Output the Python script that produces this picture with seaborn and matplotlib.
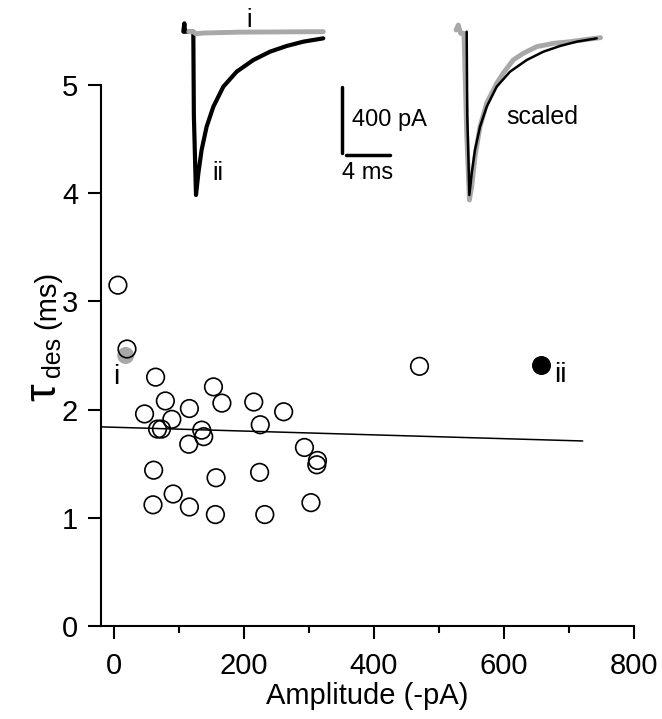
import numpy as np
import pandas as pd
import matplotlib
matplotlib.use("Agg")
import matplotlib.pyplot as plt
from matplotlib.ticker import MultipleLocator
import seaborn as sns

# open circles: amplitude (-pA) and tau_des (ms)
amp_open = [6, 20, 64, 153, 79, 166, 215, 116, 47, 261, 89, 225, 67, 73, 135, 138,
            115, 293, 313, 312, 61, 157, 224, 91, 60, 116, 303, 156, 232, 470]
tau_open = [3.15, 2.56, 2.30, 2.21, 2.08, 2.06, 2.07, 2.01, 1.96, 1.98, 1.91, 1.86, 1.82, 1.82, 1.81, 1.75,
            1.68, 1.65, 1.53, 1.49, 1.44, 1.37, 1.42, 1.22, 1.12, 1.10, 1.14, 1.03, 1.03, 2.40]
# highlighted cells (traces i and ii)
amp_i, tau_i = [18], [2.50]
amp_ii, tau_ii = [657], [2.41]
# fitted line endpoints
fit_x = [-18, 721]
fit_y = [1.84, 1.71]

# current traces (ms, pA)
t_ii = [-0.89, -0.80, -0.74, 0.0, 0.05, 0.24, 0.45, 0.74, 1.19, 1.79, 2.68, 3.87, 5.36, 6.85, 8.33, 9.82, 11.6]
i_ii = [0, 50, 0, 0, -500, -980, -850, -710, -570, -450, -330, -240, -170, -120, -86, -60, -40]
t_i = [-0.4, 0.0, 0.2, 1.0, 4.0, 11.6]
i_i = [0, 0, -12, -8, -3, 0]
t_i_sc = [-0.8, -0.6, -0.39, -0.09, 0.15, 0.39, 0.6, 0.89, 1.34, 1.93, 2.83, 3.4, 4.3, 5.2, 6.4, 7.9, 9.4, 10.9, 12.1]
i_i_sc = [10, 40, -10, -10, -610, -1010, -930, -750, -570, -430, -310, -250, -170, -130, -90, -70, -60, -46, -36]

sns.set_style("ticks")
plt.rcParams["font.family"] = ["Liberation Sans", "DejaVu Sans"]
plt.rcParams["text.color"] = "black"
plt.rcParams["xtick.color"] = "black"
plt.rcParams["ytick.color"] = "black"
plt.rcParams["axes.labelcolor"] = "black"
plt.rcParams["axes.edgecolor"] = "black"

W, H = 662, 719
fig = plt.figure(figsize=(W / 100, H / 100), dpi=100)
ax = fig.add_axes([101 / W, (H - 626) / H, (634 - 101) / W, (626 - 85) / H])

df = pd.DataFrame({"amp": amp_open, "tau": tau_open})
sns.scatterplot(data=df, x="amp", y="tau", ax=ax, s=160, facecolor="none",
                edgecolor="black", linewidth=1.2, zorder=3)
sns.scatterplot(x=amp_i, y=tau_i, ax=ax, s=150, color="#a8a8a8", edgecolor="none", zorder=2)
sns.scatterplot(x=amp_ii, y=tau_ii, ax=ax, s=160, color="black", edgecolor="black", zorder=3)
sns.lineplot(x=fit_x, y=fit_y, ax=ax, color="black", linewidth=1.1)

ax.text(3, 2.30, "i", fontsize=20, ha="center", va="center")
ax.text(687, 2.32, "ii", fontsize=20, ha="center", va="center")

ax.set_xlim(-20, 800)
ax.set_ylim(0, 5)
ax.set_xticks([0, 200, 400, 600, 800])
ax.xaxis.set_minor_locator(MultipleLocator(100))
ax.set_yticks([0, 1, 2, 3, 4, 5])
sns.despine(ax=ax)
for s in ["left", "bottom"]:
    ax.spines[s].set_linewidth(1.5)
ax.tick_params(axis="both", which="major", direction="out", length=9.5, width=1.5, labelsize=21)
ax.tick_params(axis="x", which="major", pad=9)
ax.tick_params(axis="y", which="major", pad=7)
ax.tick_params(axis="x", which="minor", direction="out", length=5, width=1.5)
ax.set_xlabel("Amplitude (-pA)", fontsize=21, labelpad=2)
ax.set_ylabel("")

# y label: large tau, subscript "des", smaller "(ms)"
fig.text(44 / W, (H - 392) / H, "τ", fontsize=32, rotation=90, ha="center", va="center")
fig.text(53 / W, (H - 357) / H, "des", fontsize=18, rotation=90, ha="center", va="center")
fig.text(47 / W, (H - 300) / H, "(ms)", fontsize=21, rotation=90, ha="center", va="center")

# inset traces
xl, yl = (-2.08, 18.45), (-1070, 190)
left = fig.add_axes([170 / W, (H - 210) / H, 230 / W, 210 / H])
left.plot(t_ii, i_ii, color="black", linewidth=3)
left.plot(t_i, i_i, color="#a8a8a8", linewidth=3.5)
left.text(5.0, 70, "i", fontsize=18, ha="center", va="center")
left.text(2.2, -850, "ii", fontsize=18, ha="center", va="center")
left.plot([13.3, 13.3], [-730, -330], color="black", linewidth=2.5)
left.plot([13.6, 17.6], [-740, -740], color="black", linewidth=2.5)
left.text(14.2, -530, "400 pA", fontsize=17, ha="left", va="center")
left.text(13.3, -850, "4 ms", fontsize=17, ha="left", va="center")
left.set_xlim(*xl)
left.set_ylim(*yl)
left.axis("off")

right = fig.add_axes([441.7 / W, (H - 210) / H, 230 / W, 210 / H])
right.plot(t_i_sc, i_i_sc, color="#a8a8a8", linewidth=3.5)
right.plot([t + 0.15 for t in t_ii[3:]], i_ii[3:], color="black", linewidth=1.8)
right.text(6.9, -510, "scaled", fontsize=18, ha="center", va="center")
right.set_xlim(*xl)
right.set_ylim(*yl)
right.axis("off")

fig.savefig("out.png", dpi=100)
